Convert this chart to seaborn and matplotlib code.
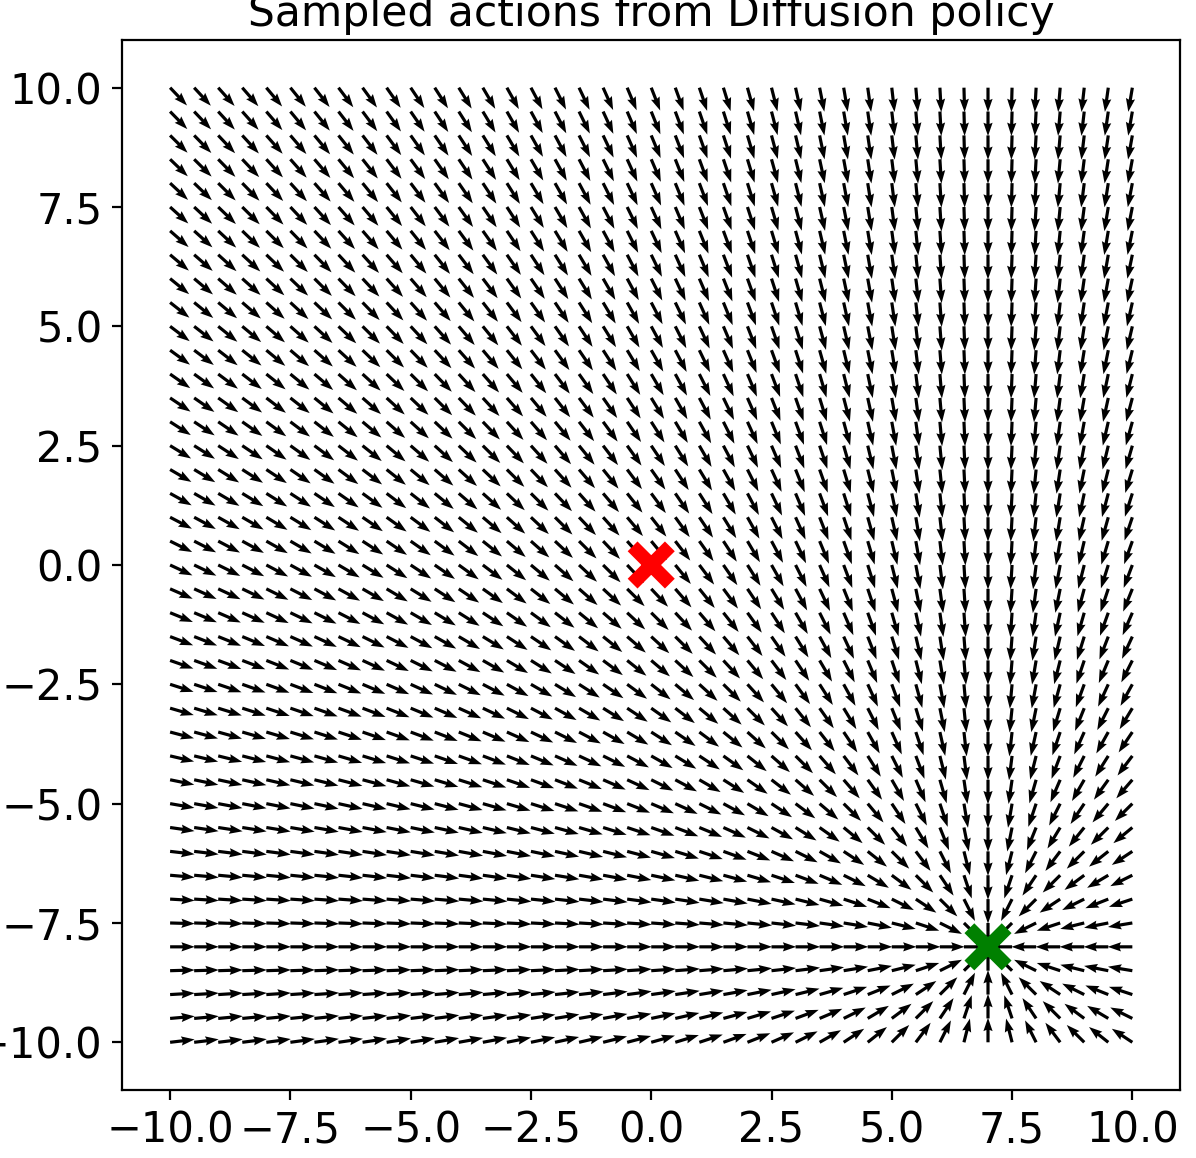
import matplotlib
matplotlib.use("Agg")
import matplotlib.pyplot as plt
import numpy as np
import pandas as pd
import seaborn as sns

# sampled grid of states (41 x 41 points, step 0.5)
grid_x = np.linspace(-10.0, 10.0, 41)
grid_y = np.linspace(-10.0, 10.0, 41)

# start / goal markers
start_xy = (0.0, 0.0)
goal_xy = (7.0, -8.0)

title = "Sampled actions from Diffusion policy"

sns.set_theme(style="ticks", rc={
    "axes.edgecolor": "black",
    "text.color": "black",
    "axes.labelcolor": "black",
    "xtick.color": "black",
    "ytick.color": "black",
    "axes.linewidth": 0.8,
    "xtick.major.width": 0.8,
    "ytick.major.width": 0.8,
    "xtick.major.size": 3.5,
    "ytick.major.size": 3.5,
    "xtick.labelsize": 15,
    "ytick.labelsize": 15,
    "axes.titlesize": 15.3,
})
plt.rcParams["font.family"] = ["DejaVu Sans"]

X, Y = np.meshgrid(grid_x, grid_y)
dx = goal_xy[0] - X
dy = goal_xy[1] - Y
norm = np.hypot(dx, dy)
norm[norm == 0] = 1.0
U = dx / norm
V = dy / norm

fig = plt.figure(figsize=(5.98, 5.79), dpi=200)
ax = fig.add_axes([0.102, 0.0587, 0.885, 0.9068])

ax.quiver(X, Y, U, V, color="black", angles="xy", scale_units="xy", scale=1.95,
          width=0.003, headlength=4.2, headaxislength=3.8, headwidth=2.9)

pts = pd.DataFrame({"x": [start_xy[0], goal_xy[0]], "y": [start_xy[1], goal_xy[1]],
                    "kind": ["start", "goal"]})
sns.scatterplot(data=pts, x="x", y="y", hue="kind", palette={"start": "red", "goal": "green"},
                marker="x", s=180, linewidth=5, legend=False, ax=ax, zorder=5)

ax.set_xlim(-11, 11)
ax.set_ylim(-11, 11)
ax.set_xticks(np.arange(-10, 10.1, 2.5))
ax.set_yticks(np.arange(-10, 10.1, 2.5))
ax.set_xlabel("")
ax.set_ylabel("")
ax.set_title(title, pad=5)

fig.savefig("out.png", dpi=200)
